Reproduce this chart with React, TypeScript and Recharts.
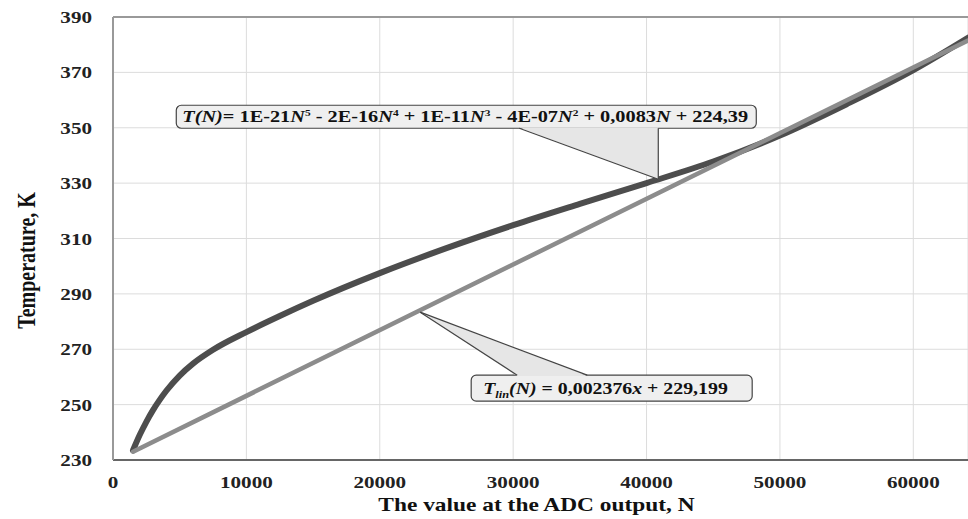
import React from 'react';
import { LineChart, Line, XAxis, YAxis, CartesianGrid, ReferenceDot, ReferenceLine, Label } from 'recharts';

const xTicks = [0, 10000, 20000, 30000, 40000, 50000, 60000];
const yTicks = [230, 250, 270, 290, 310, 330, 350, 370, 390];
const xMax = 64100;

const polyN = [1500, 2000, 2500, 3000, 3500, 4000, 5000, 6000, 7500, 10000, 12500, 15000, 20000, 25000, 30000, 35000, 40000, 45000, 50000, 55000, 60000, 64100];
const polyT = [233.5, 239, 243.8, 248, 251.7, 255, 260.5, 264.8, 269.8, 276.2, 282, 287.5, 297.5, 306.5, 314.8, 322.5, 330, 337.8, 347.2, 358.5, 370.8, 382.5];

const linN = [1500, 64100];
const linT = [233.0, 381.5];

const polyAnchor = [40880, 331.4];
const linAnchor = [23030, 283.4];

const polyData = polyN.map((n, i) => ({ n, t: polyT[i] }));
const linData = linN.map((n, i) => ({ n, t: linT[i] }));

const FONT = '"Liberation Serif", "Times New Roman", serif';
const SX = 1.28;

function XTick(props: any) {
  const { x, y, payload } = props;
  return (
    <text transform={`translate(${x},${y + 28}) scale(${SX},1)`} textAnchor="middle"
      fontFamily={FONT} fontWeight="bold" fontSize={16.5} fill="#222">{payload.value}</text>
  );
}

function YTick(props: any) {
  const { x, y, payload } = props;
  return (
    <text transform={`translate(${x - 21},${y + 6}) scale(${SX},1)`} textAnchor="end"
      fontFamily={FONT} fontWeight="bold" fontSize={16.5} fill="#222">{payload.value}</text>
  );
}

function XTitle(props: any) {
  const vb = props.viewBox || { x: 113, y: 460, width: 855, height: 59 };
  const cx = vb.x + vb.width / 2 - 4;
  return (
    <text transform={`translate(${cx},${vb.y + 51}) scale(1.3,1)`} textAnchor="middle"
      fontFamily={FONT} fontWeight="bold" fontSize={18} fill="#111">The value at the ADC output, N</text>
  );
}

function YTitle(props: any) {
  const vb = props.viewBox || { x: 0, y: 17, width: 113, height: 443 };
  const cy = vb.y + vb.height / 2 + 22;
  return (
    <text transform={`translate(35,${cy}) scale(1.3,1) rotate(-90)`} textAnchor="middle"
      fontFamily={FONT} fontWeight="bold" fontSize={20} fill="#111">Temperature, K</text>
  );
}

function Callout1(props: any) {
  const { cx, cy } = props;
  if (cx == null || cy == null) return null;
  const bx = cx - 482, by = cy - 74, bw = 580, bh = 23;
  const baseY = by + bh;
  return (
    <g>
      <rect x={bx} y={by} width={bw} height={bh} rx={5} ry={5} fill="#efefef" stroke="#444" strokeWidth={1.2} />
      <polygon points={`${cx - 139},${baseY - 0.8} ${cx},${baseY - 0.8} ${cx},${cy}`} fill="#e6e6e6" stroke="none" />
      <line x1={cx - 139} y1={baseY} x2={cx} y2={cy} stroke="#444" strokeWidth={1.2} />
      <line x1={cx} y1={baseY} x2={cx} y2={cy} stroke="#444" strokeWidth={1.2} />
      <text transform={`translate(${bx + 6},${cy - 57}) scale(1.27,1)`} fontFamily={FONT} fontWeight="bold" fontSize={16} fill="#111">
        <tspan fontStyle="italic">T(N)</tspan>
        <tspan>= 1E-21</tspan><tspan fontStyle="italic">N</tspan><tspan fontSize={9} dy={-6}>5</tspan>
        <tspan dy={6}> - 2E-16</tspan><tspan fontStyle="italic">N</tspan><tspan fontSize={9} dy={-6}>4</tspan>
        <tspan dy={6}> + 1E-11</tspan><tspan fontStyle="italic">N</tspan><tspan fontSize={9} dy={-6}>3</tspan>
        <tspan dy={6}> - 4E-07</tspan><tspan fontStyle="italic">N</tspan><tspan fontSize={9} dy={-6}>2</tspan>
        <tspan dy={6}> + 0,0083</tspan><tspan fontStyle="italic">N</tspan>
        <tspan> + 224,39</tspan>
      </text>
    </g>
  );
}

function Callout2(props: any) {
  const { cx, cy } = props;
  if (cx == null || cy == null) return null;
  const bx = cx + 51, by = cy + 63, bw = 281, bh = 26;
  return (
    <g>
      <rect x={bx} y={by} width={bw} height={bh} rx={5} ry={5} fill="#efefef" stroke="#444" strokeWidth={1.2} />
      <polygon points={`${cx + 97},${by + 0.8} ${cx + 167},${by + 0.8} ${cx},${cy}`} fill="#e6e6e6" stroke="none" />
      <line x1={cx + 97} y1={by} x2={cx} y2={cy} stroke="#444" strokeWidth={1.2} />
      <line x1={cx + 167} y1={by} x2={cx} y2={cy} stroke="#444" strokeWidth={1.2} />
      <text transform={`translate(${bx + 12},${by + 19}) scale(1.24,1)`} fontFamily={FONT} fontWeight="bold" fontSize={16} fill="#111">
        <tspan fontStyle="italic">T</tspan><tspan fontStyle="italic" fontSize={10} dy={4}>lin</tspan>
        <tspan fontStyle="italic" dy={-4}>(N)</tspan>
        <tspan> = 0,002376</tspan><tspan fontStyle="italic">x</tspan>
        <tspan> + 229,199</tspan>
      </text>
    </g>
  );
}

export default function App() {
  return (
    <div style={{ position: 'fixed', left: 0, top: 0, width: 968, height: 519, background: '#fff', overflow: 'hidden' }}>
      <LineChart width={968} height={519} margin={{ top: 17, right: 0, bottom: 0, left: 0 }}>
        <CartesianGrid stroke="#dcdcdc" strokeWidth={1} />
        <XAxis type="number" dataKey="n" domain={[0, xMax]} ticks={xTicks} allowDataOverflow
          height={59} tickSize={0} tickMargin={0} tickLine={false} tick={<XTick />}
          axisLine={{ stroke: '#666', strokeWidth: 2 }}>
          <Label content={(p: any) => <XTitle {...p} />} />
        </XAxis>
        <YAxis type="number" domain={[230, 390]} ticks={yTicks} allowDataOverflow
          width={113} tickSize={0} tickMargin={0} tickLine={false} tick={<YTick />}
          axisLine={{ stroke: '#999', strokeWidth: 2 }}>
          <Label content={(p: any) => <YTitle {...p} />} />
        </YAxis>
        <ReferenceLine y={390} stroke="#999" strokeWidth={2} />
        <Line data={polyData} dataKey="t" type="monotone" stroke="#4d4d4d" strokeWidth={6} dot={false} isAnimationActive={false} strokeLinecap="round" />
        <Line data={linData} dataKey="t" type="linear" stroke="#8c8c8c" strokeWidth={4.5} dot={false} isAnimationActive={false} strokeLinecap="round" />
        <ReferenceDot x={polyAnchor[0]} y={polyAnchor[1]} r={0} shape={(p: any) => <Callout1 {...p} />} />
        <ReferenceDot x={linAnchor[0]} y={linAnchor[1]} r={0} shape={(p: any) => <Callout2 {...p} />} />
      </LineChart>
    </div>
  );
}
